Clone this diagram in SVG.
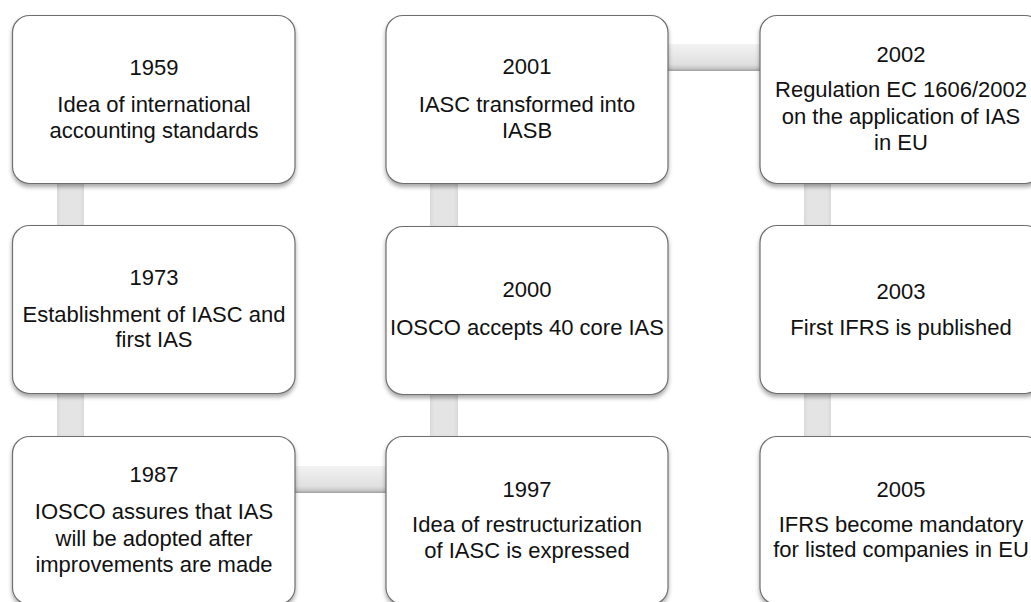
<svg xmlns="http://www.w3.org/2000/svg" width="1031" height="602" viewBox="0 0 1031 602">
<defs>
<filter id="sh" x="-10%" y="-10%" width="120%" height="130%">
<feDropShadow dx="0" dy="3" stdDeviation="2.2" flood-color="#000" flood-opacity="0.35"/>
</filter>
<linearGradient id="hg" x1="0" y1="0" x2="0" y2="1">
<stop offset="0" stop-color="#f2f2f2"/>
<stop offset="0.75" stop-color="#e0e0e0"/>
<stop offset="0.9" stop-color="#c8c8c8"/>
<stop offset="1" stop-color="#9e9e9e"/>
</linearGradient>
<linearGradient id="vg" x1="0" y1="0" x2="1" y2="0">
<stop offset="0" stop-color="#d9d9d9"/>
<stop offset="0.15" stop-color="#e4e4e4"/>
<stop offset="0.85" stop-color="#e4e4e4"/>
<stop offset="1" stop-color="#d9d9d9"/>
</linearGradient>
</defs>
<style>
.box{fill:#fff;stroke:#6e6e6e;stroke-width:1.2;filter:url(#sh)}
.t{font-family:"Liberation Sans",Arial,sans-serif;font-size:22px;fill:#111;text-anchor:middle}
.v{fill:url(#vg)}
.h{fill:url(#hg)}
</style>
<rect width="1031" height="602" fill="#fff"/>
<g id="connectors">
<rect class="v" x="57" y="175" width="27" height="270"/>
<rect class="v" x="430" y="175" width="28" height="270"/>
<rect class="v" x="804" y="175" width="27" height="270"/>
<rect class="h" x="660" y="44" width="108" height="27"/>
<rect class="h" x="287" y="466" width="107" height="27"/>
</g>
<g id="n1959">
<rect class="box" x="12.5" y="15.5" width="282.5" height="168" rx="17"/>
<text class="t" x="154" y="75">1959</text>
<text class="t" x="154" y="112">Idea of international</text>
<text class="t" x="154" y="138">accounting standards</text>
</g>
<g id="n2001">
<rect class="box" x="386" y="15.5" width="282" height="168" rx="17"/>
<text class="t" x="527" y="74">2001</text>
<text class="t" x="527" y="112">IASC transformed into</text>
<text class="t" x="527" y="138">IASB</text>
</g>
<g id="n2002">
<rect class="box" x="760" y="15.5" width="282" height="168" rx="17"/>
<text class="t" x="901" y="62">2002</text>
<text class="t" x="901" y="97">Regulation EC 1606/2002</text>
<text class="t" x="901" y="124">on the application of IAS</text>
<text class="t" x="901" y="150">in EU</text>
</g>
<g id="n1973">
<rect class="box" x="12.5" y="225.5" width="282.5" height="168" rx="17"/>
<text class="t" x="154" y="285">1973</text>
<text class="t" x="154" y="322">Establishment of IASC and</text>
<text class="t" x="154" y="347">first IAS</text>
</g>
<g id="n2000">
<rect class="box" x="386" y="226.5" width="282" height="168" rx="17"/>
<text class="t" x="527" y="297">2000</text>
<text class="t" x="527" y="335">IOSCO accepts 40 core IAS</text>
</g>
<g id="n2003">
<rect class="box" x="760" y="225.5" width="282" height="168" rx="17"/>
<text class="t" x="901" y="299">2003</text>
<text class="t" x="901" y="335">First IFRS is published</text>
</g>
<g id="n1987">
<rect class="box" x="12.5" y="436.5" width="282.5" height="168" rx="17"/>
<text class="t" x="154" y="482">1987</text>
<text class="t" x="154" y="519">IOSCO assures that IAS</text>
<text class="t" x="154" y="546">will be adopted after</text>
<text class="t" x="154" y="572">improvements are made</text>
</g>
<g id="n1997">
<rect class="box" x="386" y="436.5" width="282" height="168" rx="17"/>
<text class="t" x="527" y="497">1997</text>
<text class="t" x="527" y="532">Idea of restructurization</text>
<text class="t" x="527" y="558">of IASC is expressed</text>
</g>
<g id="n2005">
<rect class="box" x="760" y="436.5" width="282" height="168" rx="17"/>
<text class="t" x="901" y="497">2005</text>
<text class="t" x="901" y="532">IFRS become mandatory</text>
<text class="t" x="901" y="557">for listed companies in EU</text>
</g>
</svg>
